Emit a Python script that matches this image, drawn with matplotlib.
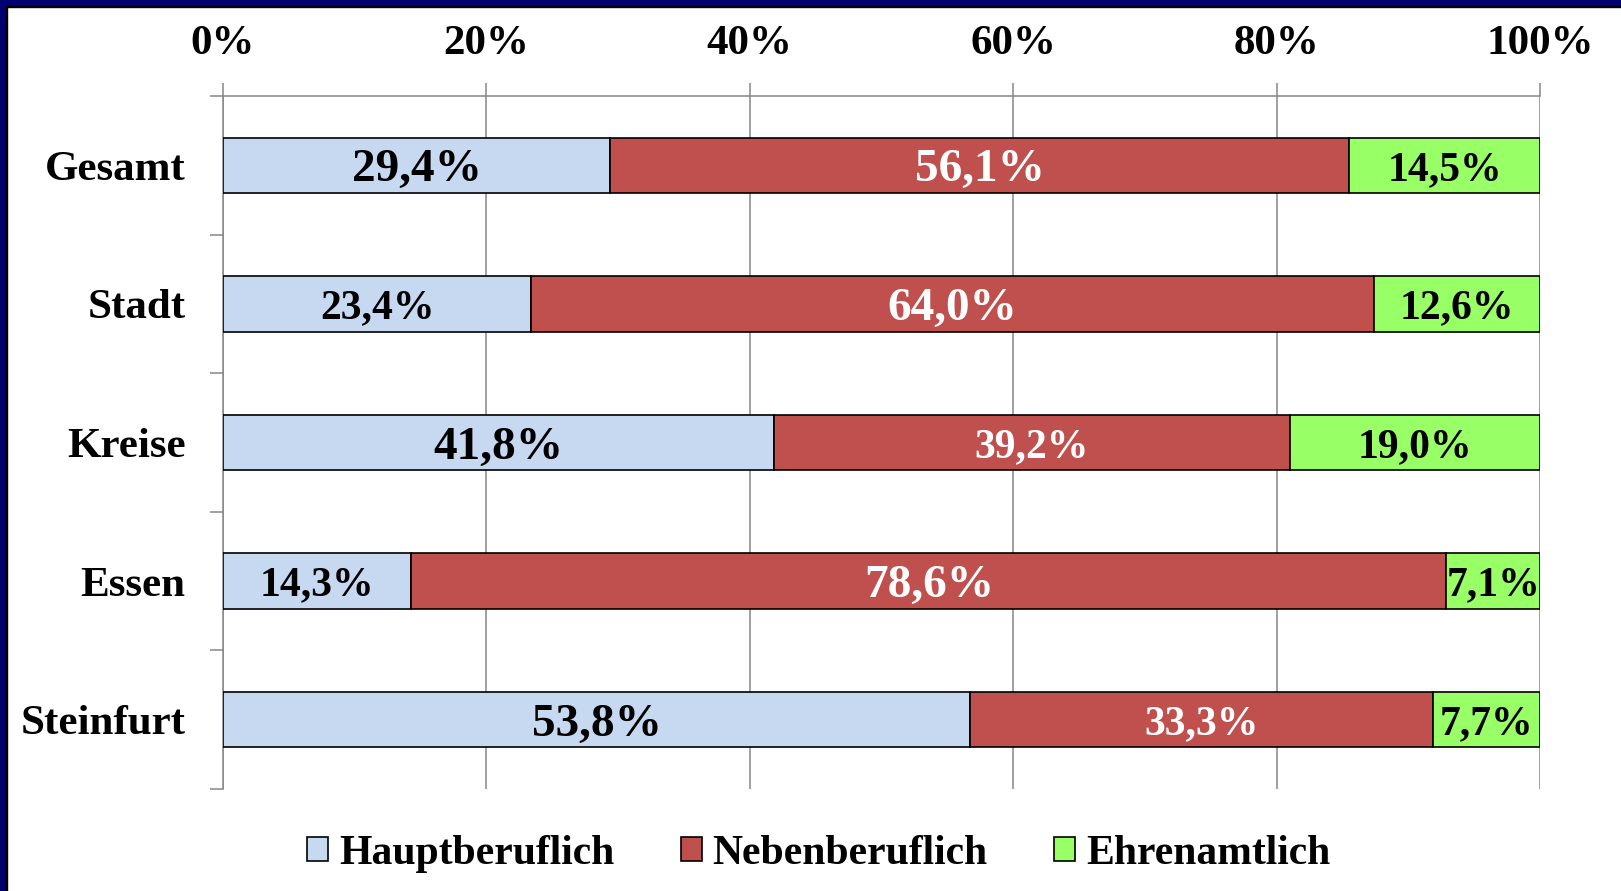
import numpy as np
import matplotlib.pyplot as plt
from matplotlib.patches import Rectangle

# data
categories = ["Gesamt", "Stadt", "Kreise", "Essen", "Steinfurt"]
series_names = ["Hauptberuflich", "Nebenberuflich", "Ehrenamtlich"]
haupt = [29.4, 23.4, 41.8, 14.3, 53.8]
neben = [56.1, 64.0, 39.2, 78.6, 33.3]
ehren = [14.5, 12.6, 19.0, 7.1, 7.7]
x_ticks = [0, 20, 40, 60, 80, 100]

# style
colors = ["#C6D9F1", "#C0504D", "#99FF66"]
text_colors = ["black", "white", "black"]
label_sizes = [
    [34, 34, 30],
    [30, 34, 30],
    [34, 30, 30],
    [30, 34, 30],
    [34, 30, 30],
]
font = "Liberation Serif"

values = np.array([haupt, neben, ehren]).T
shares = values / values.sum(axis=1, keepdims=True) * 100

fig = plt.figure(figsize=(16.21, 8.91), dpi=100)
ax = fig.add_axes([0.1376, 0.1145, 0.8124, 0.7778])

y = np.arange(len(categories))
left = np.zeros(len(categories))
for j in range(3):
    ax.barh(y, shares[:, j], left=left, height=0.4, color=colors[j],
            edgecolor="black", linewidth=1.2, label=series_names[j], zorder=3)
    for i in range(len(categories)):
        txt = ("%.1f%%" % values[i, j]).replace(".", ",")
        ax.text(left[i] + shares[i, j] / 2, y[i], txt, ha="center",
                va="center_baseline", color=text_colors[j],
                fontsize=label_sizes[i][j], fontweight="bold", family=font,
                zorder=4)
    left += shares[:, j]

ax.set_xlim(0, 100)
ax.set_ylim(len(categories) - 0.5, -0.5)
ax.xaxis.tick_top()
ax.set_xticks(x_ticks)
ax.set_xticklabels(["%d%%" % t for t in x_ticks], fontsize=31,
                   fontweight="bold", family=font)
ax.tick_params(axis="x", direction="out", length=9.5, width=1.1,
               color="#868686", pad=14)
ax.set_yticks(y)
ax.set_yticklabels(categories, fontsize=31, fontweight="bold", family=font)
ax.set_yticks(np.arange(-0.5, len(categories)), minor=True)
ax.tick_params(axis="y", which="major", length=0, pad=27)
ax.tick_params(axis="y", which="minor", direction="out", length=9.5,
               width=1.1, color="#868686")
ax.grid(axis="x", color="#868686", linewidth=1.1, zorder=0)
ax.set_axisbelow(True)
for s in ["bottom", "right"]:
    ax.spines[s].set_visible(False)
for s in ["top", "left"]:
    ax.spines[s].set_color("#868686")
    ax.spines[s].set_linewidth(1.1)

fig.legend(loc="center", bbox_to_anchor=(0.505, 0.042), ncol=3, frameon=False,
           prop={"family": font, "weight": "bold", "size": 30},
           handlelength=0.5, handleheight=0.5, handletextpad=0.26,
           columnspacing=1.6)

# navy frame on top and left
fig.patches.append(Rectangle((0, 1 - 6 / 891), 1, 6 / 891, transform=fig.transFigure,
                             color="#000070", zorder=10))
fig.patches.append(Rectangle((0, 0), 6 / 1621, 1, transform=fig.transFigure,
                             color="#000070", zorder=10))
fig.patches.append(Rectangle((6 / 1621, 1 - 7 / 891), 1, 1 / 891,
                             transform=fig.transFigure, color="black", zorder=10))
fig.patches.append(Rectangle((6 / 1621, 0), 1 / 1621, 1 - 6 / 891,
                             transform=fig.transFigure, color="black", zorder=10))

fig.savefig("out.png", dpi=100)
